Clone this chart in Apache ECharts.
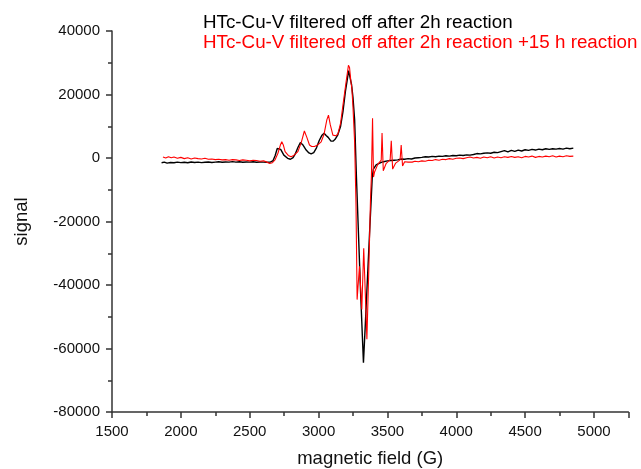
<!DOCTYPE html>
<html>
<head>
<meta charset="utf-8">
<script src="https://cdn.jsdelivr.net/npm/echarts@6/dist/echarts.min.js"></script>
<style>
  html, body { margin: 0; padding: 0; background: #fff; }
  #chart { width: 641px; height: 469px; }
</style>
</head>
<body>
<div id="chart"></div>
<script>
// series names
const seriesNames = [
  'HTc-Cu-V filtered off after 2h reaction',
  'HTc-Cu-V filtered off after 2h reaction +15 h reaction'
];

// magnetic field (G) / signal, black trace
const fieldA = [
  1860, 1880, 1900, 1925, 1950, 1975, 2000, 2025, 2050, 2075, 2100, 2125, 2150, 2175, 2200, 2225,
  2250, 2275, 2300, 2325, 2350, 2375, 2400, 2425, 2450, 2475, 2500, 2525, 2550, 2575, 2600, 2625,
  2650, 2670, 2685, 2700, 2710, 2725, 2748, 2775, 2796, 2815, 2830, 2850, 2868, 2885, 2910, 2930,
  2946, 2965, 2985, 3005, 3025, 3040, 3055, 3070, 3090, 3105, 3120, 3140, 3160, 3177, 3195, 3208,
  3218, 3228, 3240, 3250, 3262, 3275, 3290, 3305, 3318, 3326, 3340, 3355, 3370, 3382, 3390, 3398,
  3418, 3440, 3460, 3480, 3500, 3525, 3550, 3575, 3600, 3625, 3650, 3675, 3700, 3725, 3750, 3775,
  3800, 3825, 3850, 3875, 3900, 3925, 3950, 3975, 4000, 4025, 4050, 4075, 4100, 4125, 4150, 4175,
  4200, 4225, 4250, 4275, 4300, 4325, 4350, 4375, 4400, 4425, 4450, 4475, 4500, 4525, 4550, 4575,
  4600, 4625, 4650, 4675, 4700, 4725, 4750, 4775, 4800, 4825, 4850
];
const signalA = [
  -1500, -1300, -1600, -1400, -1500, -1300, -1450, -1350, -1500, -1250, -1400, -1300, -1450, -1350, -1250, -1400,
  -1300, -1200, -1350, -1250, -1300, -1150, -1300, -1200, -1350, -1250, -1300, -1200, -1350, -1250, -1300, -1350,
  -1300, -800, 800, 3000, 3600, 2700, 900, -100, -400, 100, 1200, 3300, 4900, 4200, 2500, 1600,
  1300, 1700, 3200, 5500, 7200, 7800, 7100, 6500, 5300, 5300, 5900, 7300, 10000, 14500, 21000, 24500,
  27500, 27800, 23000, 19000, 12000, -6000, -24000, -42000, -56000, -64500, -52000, -38000, -24000, -13200, -6000, -3500,
  -2200, -1700, -1300, -1100, -900, -800, -700, -600, -300, -400, -200, -300, 0, 100, 200, 400,
  300, 500, 400, 600, 500, 700, 600, 800, 700, 900, 800, 1000, 900, 1100, 1400, 1300,
  1500, 1600, 1500, 1800, 1700, 2000, 2300, 1900, 2400, 2100, 2500, 2200, 2600, 2400, 2700, 2500,
  2800, 2600, 2900, 2700, 2900, 2800, 3000, 2800, 3100, 2900, 3100
];

// magnetic field (G) / signal, red trace
const fieldB = [
  1870, 1890, 1910, 1930, 1950, 1975, 2000, 2025, 2050, 2075, 2100, 2125, 2150, 2175, 2200, 2225,
  2250, 2275, 2300, 2325, 2350, 2375, 2400, 2425, 2450, 2475, 2500, 2525, 2550, 2575, 2600, 2625,
  2645, 2665, 2685, 2705, 2722, 2733, 2745, 2757, 2780, 2800, 2820, 2850, 2875, 2897, 2915, 2934,
  2950, 2970, 2990, 3019, 3040, 3060, 3072, 3085, 3104, 3125, 3140, 3160, 3177, 3200, 3217, 3225,
  3235, 3242, 3250, 3262, 3272, 3280, 3297, 3314, 3328, 3351, 3365, 3377, 3384, 3392, 3399, 3406,
  3430, 3455, 3461, 3470, 3490, 3520, 3528, 3538, 3560, 3592, 3600, 3610, 3625, 3650, 3680, 3700,
  3725, 3750, 3775, 3800, 3825, 3850, 3875, 3900, 3925, 3950, 3975, 4000, 4025, 4050, 4075, 4100,
  4125, 4150, 4175, 4200, 4225, 4250, 4275, 4300, 4325, 4350, 4375, 4400, 4425, 4450, 4475, 4500,
  4525, 4550, 4575, 4600, 4625, 4650, 4675, 4700, 4725, 4750, 4775, 4800, 4825, 4850
];
const signalB = [
  300, 0, 400, 100, 300, -100, 200, -200, 100, -300, 0, -200, -300, -100, -400, -300,
  -500, -400, -600, -500, -700, -500, -600, -800, -600, -700, -900, -700, -800, -1000, -900, -1300,
  -1700, -1500, -500, 1500, 4000, 5100, 4000, 2000, 800, 400, 800, 2000, 5000, 8500, 6500, 4100,
  3600, 3600, 4000, 5100, 7500, 12000, 13500, 10500, 7200, 7000, 7500, 11000, 16600, 24000, 29200, 28500,
  24000, 21900, 16000, 5000, -15000, -44600, -34100, -47700, -28400, -57100, -35000, -13200, -5500, 12500, -6000, -4500,
  -2000, -700, 7900, -4000, -1800, -500, 5400, -3500, -1600, -600, 4100, -2500, -1200, -1300, -1300, -1000,
  -1200, -900, -1000, -700, -800, -500, -700, -400, -500, -200, -400, -100, 0, -200, 100, 300,
  0, 200, -100, 300, 100, 400, 0, 300, 100, 400, 200, 500, 200, 400, 100, 500,
  300, 600, 200, 500, 300, 600, 400, 700, 300, 600, 400, 700, 500, 600
];

// axis ticks
const xTicks = { min: 1500, max: 5250, step: 500 };
const yTicks = { min: -80000, max: 40000, step: 20000 };

const chart = echarts.init(document.getElementById('chart'), null, { renderer: 'canvas' });

const font = 'Liberation Sans, Arial, sans-serif';
const labelStyle = { fontFamily: font, fontSize: 15, color: '#111', formatter: v => String(v) };
const axisColor = '#333';

const option = {
  animation: false,
  backgroundColor: '#fff',
  legend: {
    left: 198,
    top: 13,
    padding: 0,
    orient: 'vertical',
    icon: 'none',
    itemWidth: 0,
    itemHeight: 0,
    itemGap: 1.5,
    selectedMode: false,
    textStyle: { fontFamily: font, fontSize: 18.8 },
    data: [
      { name: seriesNames[0], textStyle: { color: '#000' } },
      { name: seriesNames[1], textStyle: { color: '#ff0000' } }
    ]
  },
  grid: { left: 112, right: 12.6, top: 31, bottom: 57, outerBoundsMode: 'none' },
  xAxis: {
    type: 'value',
    min: xTicks.min,
    max: xTicks.max,
    interval: xTicks.step,
    name: 'magnetic field (G)',
    nameLocation: 'middle',
    nameGap: 37,
    nameTextStyle: { fontFamily: font, fontSize: 18.5, color: '#111' },
    axisLine: { onZero: false, lineStyle: { color: axisColor, width: 1.5 } },
    axisTick: { length: 6, lineStyle: { color: axisColor, width: 1.5 } },
    minorTick: { show: true, splitNumber: 2, length: 4, lineStyle: { color: axisColor, width: 1.5 } },
    axisLabel: { ...labelStyle, margin: 12, showMaxLabel: false },
    splitLine: { show: false }
  },
  yAxis: {
    type: 'value',
    min: yTicks.min,
    max: yTicks.max,
    interval: yTicks.step,
    name: 'signal',
    nameLocation: 'middle',
    nameGap: 81,
    nameRotate: 90,
    nameTextStyle: { fontFamily: font, fontSize: 18.5, color: '#111' },
    axisLine: { show: true, onZero: false, lineStyle: { color: axisColor, width: 1.5 } },
    axisTick: { show: true, length: 6, lineStyle: { color: axisColor, width: 1.5 } },
    minorTick: { show: true, splitNumber: 2, length: 4, lineStyle: { color: axisColor, width: 1.5 } },
    axisLabel: { ...labelStyle, margin: 12 },
    splitLine: { show: false }
  },
  series: [
    {
      name: seriesNames[0],
      type: 'line',
      showSymbol: false,
      data: fieldA.map((f, i) => [f, signalA[i]]),
      lineStyle: { color: '#000', width: 1.4 },
      itemStyle: { color: '#000' },
      z: 2
    },
    {
      name: seriesNames[1],
      type: 'line',
      showSymbol: false,
      data: fieldB.map((f, i) => [f, signalB[i]]),
      lineStyle: { color: '#ff0000', width: 1.1 },
      itemStyle: { color: '#ff0000' },
      z: 3
    }
  ]
};

chart.setOption(option);
</script>
</body>
</html>
